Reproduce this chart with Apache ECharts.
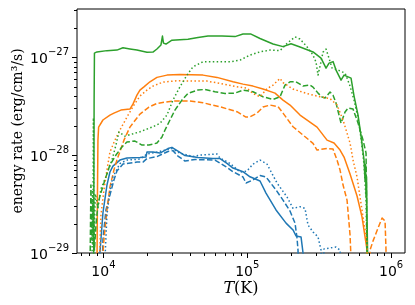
<!DOCTYPE html>
<html><head><meta charset="utf-8">
<script src="https://cdn.jsdelivr.net/npm/echarts@6/dist/echarts.min.js"></script>
<style>html,body{margin:0;padding:0;background:#fff}#c{width:415px;height:305px}</style>
</head><body><div id="c"></div>
<script>
// ---- axes ----
const xRange = [6550, 1.25e6];
const yRange = [0.99999e-29, 3.1e-27];
const xMinorTicks = [7000, 8000, 9000, 2e4, 3e4, 4e4, 5e4, 6e4, 7e4, 8e4, 9e4, 2e5, 3e5, 4e5, 5e5, 6e5, 7e5, 8e5, 9e5];
const xMajorTicks = [1e4, 1e5, 1e6];
const yMinorTicks = [2e-29, 3e-29, 4e-29, 5e-29, 6e-29, 7e-29, 8e-29, 9e-29, 2e-28, 3e-28, 4e-28, 5e-28, 6e-28, 7e-28, 8e-28, 9e-28, 2e-27, 3e-27];
const yMajorTicks = [1e-29, 1e-28, 1e-27];
const yTitle = 'energy rate (erg/cm³/s)';

// ---- series: [T (K), energy rate] ; 5e-30 = below the axis ----
const blueSolid = [[9380,5e-30],[9450,1.0e-29],[9920,2.56e-29],[10580,4.94e-29],[11100,6.71e-29],[11640,7.72e-29],[13020,8.89e-29],[14570,9.32e-29],[17940,9.43e-29],[19760,9.54e-29],[20070,1.073e-28],[22100,1.073e-28],[24720,1.048e-28],[28100,1.165e-28],[29950,1.198e-28],[32970,1.099e-28],[36900,9.88e-29],[45440,9.43e-29],[57770,9.25e-29],[64630,9.21e-29],[72290,8.23e-29],[79600,7.37e-29],[93420,6.76e-29],[104500,6.0e-29],[122700,5.43e-29],[135000,4.09e-29],[158500,2.75e-29],[186100,2.02e-29],[208100,1.72e-29],[218400,1.49e-29],[236600,1.46e-29],[240400,1.21e-29],[244300,1.0e-29],[248000,5e-30]];
const blueDashed = [[9760,5e-30],[9920,1.36e-29],[10410,2.75e-29],[11100,3.91e-29],[11830,5.56e-29],[12410,6.87e-29],[13670,8.09e-29],[17100,8.48e-29],[18830,8.48e-29],[20070,9.21e-29],[23560,9.65e-29],[28100,1.086e-28],[30430,1.11e-28],[32970,9.77e-29],[36900,8.69e-29],[43310,9.0e-29],[59660,8.89e-29],[70010,7.72e-29],[79600,6.76e-29],[93420,5.97e-29],[98020,5.18e-29],[109600,5.56e-29],[122700,6.18e-29],[135000,5.97e-29],[158500,4.4e-29],[177300,3.47e-29],[198300,2.68e-29],[214900,2.02e-29],[221900,1.42e-29],[225400,1.07e-29],[229100,5e-30]];
const blueDotted = [[10080,5e-30],[10580,2.44e-29],[11100,4.4e-29],[11640,5.97e-29],[13020,8.19e-29],[14570,8.89e-29],[17940,9.1e-29],[20070,1.024e-28],[23560,1.073e-28],[29950,1.165e-28],[34040,1.048e-28],[41940,9.65e-29],[46920,1.0e-28],[61600,1.024e-28],[64630,9.32e-29],[75860,8.23e-29],[89040,6.71e-29],[99610,6.87e-29],[109600,8.09e-29],[122700,8.89e-29],[137200,8.09e-29],[161100,5.18e-29],[189100,3.73e-29],[208100,2.86e-29],[232800,2.97e-29],[252200,2.85e-29],[264600,1.93e-29],[286700,1.64e-29],[310600,1.46e-29],[325800,1.07e-29],[333800,5e-30],[341900,1.1e-29],[376400,1.125e-29],[414400,1.15e-29],[441800,1.07e-29],[456200,5e-30]];
const orangeSolid = [[9010,5e-30],[9080,3.47e-29],[9160,1.42e-28],[9260,1.93e-28],[9920,2.28e-28],[11100,2.56e-28],[11830,2.68e-28],[13230,2.88e-28],[15290,2.95e-28],[16040,3.31e-28],[17100,4.09e-28],[17940,4.61e-28],[19130,4.97e-28],[21060,5.6e-28],[23560,6.21e-28],[27660,6.55e-28],[34040,6.66e-28],[49230,6.55e-28],[61600,6.21e-28],[79600,5.6e-28],[93420,5.3e-28],[109600,5.06e-28],[128700,4.72e-28],[156000,4.29e-28],[177300,3.64e-28],[198300,3.24e-28],[232800,2.56e-28],[305700,1.93e-28],[358800,1.42e-28],[401300,1.326e-28],[441800,1.125e-28],[471000,9.54e-29],[518500,6.4e-29],[580100,3.82e-29],[628400,2.33e-29],[680800,1.07e-29],[691800,5e-30]];
const orangeDashed = [[9610,5e-30],[10080,1.36e-29],[10580,2.75e-29],[11100,4.72e-29],[11830,7.03e-29],[12410,8.89e-29],[13890,1.42e-28],[15290,1.93e-28],[17940,2.62e-28],[20730,3.09e-28],[23560,3.37e-28],[30430,3.56e-28],[39970,3.56e-28],[49230,3.42e-28],[64630,3.11e-28],[84850,2.77e-28],[98020,2.44e-28],[104500,2.46e-28],[116900,2.68e-28],[128700,3.09e-28],[144000,3.24e-28],[163700,3.125e-28],[177300,2.68e-28],[208100,1.945e-28],[244300,1.6e-28],[286700,1.317e-28],[305700,1.125e-28],[358800,1.17e-28],[395000,1.15e-28],[421000,8.89e-29],[441800,7.03e-29],[463600,4.94e-29],[494200,3.47e-29],[518500,1.53e-29],[535400,5e-30],[703100,5e-30],[714400,1.07e-29],[749600,1.33e-29],[812200,1.8e-29],[865900,2.28e-29],[908500,2.12e-29],[938000,5e-30]];
const orangeDotted = [[9300,5e-30],[9610,2.44e-29],[10080,4.4e-29],[10580,7.03e-29],[11100,1.073e-28],[12020,1.42e-28],[13020,1.80e-28],[14570,2.44e-28],[16300,3.24e-28],[17940,4.0e-28],[20070,4.61e-28],[22100,5.06e-28],[25940,5.56e-28],[32440,5.73e-28],[41940,5.69e-28],[52480,5.69e-28],[64630,5.39e-28],[84850,4.97e-28],[99610,4.83e-28],[109600,4.24e-28],[122700,3.94e-28],[137200,4.77e-28],[151100,5.18e-28],[169000,6.06e-28],[177300,5.49e-28],[208100,4.72e-28],[260400,4.24e-28],[320700,3.94e-28],[376400,3.77e-28],[421000,3.24e-28],[463600,2.28e-28],[518500,1.326e-28],[544100,8.89e-29],[580100,5.97e-29],[608600,3.73e-29],[638600,2.33e-29],[680800,1.295e-29],[691800,5e-30]];
const greenSolid = [[8550,5e-30],[8615,3.64e-28],[8660,1.10e-27],[9010,1.13e-27],[10580,1.165e-27],[12410,1.18e-27],[13670,1.245e-27],[15290,1.21e-27],[17100,1.18e-27],[20070,1.12e-27],[22100,1.125e-27],[23560,1.21e-27],[25120,1.33e-27],[25730,1.64e-27],[26150,1.39e-27],[27220,1.36e-27],[29950,1.49e-27],[38710,1.52e-27],[45440,1.59e-27],[53330,1.64e-27],[66730,1.64e-27],[82190,1.62e-27],[93420,1.72e-27],[106200,1.72e-27],[122700,1.55e-27],[151100,1.36e-27],[177300,1.28e-27],[201500,1.37e-27],[232800,1.27e-27],[286700,1.13e-27],[325800,9.77e-28],[353100,7.72e-28],[370500,8.69e-28],[395000,9.0e-28],[414400,7.37e-28],[449000,5.82e-28],[471000,6.55e-28],[526900,6.11e-28],[552900,4.0e-28],[589400,2.56e-28],[618400,1.56e-28],[648900,8.89e-29],[659400,5.5e-29],[665000,8.0e-29],[670000,3.8e-29],[675000,6.0e-29],[680800,2.3e-29],[691800,5e-30]];
const greenDashed = [[8050,5e-30],[8185,4.94e-29],[8318,1.36e-29],[8450,3.47e-29],[8660,1.07e-29],[8870,1.93e-29],[9160,3.09e-29],[9450,3.82e-29],[10240,5.56e-29],[11100,7.91e-29],[12220,1.0e-28],[13450,1.21e-28],[14570,1.36e-28],[16560,1.39e-28],[18530,1.265e-28],[20730,1.265e-28],[23560,1.326e-28],[25530,1.53e-28],[26790,1.80e-28],[29010,2.28e-28],[31420,2.88e-28],[35150,3.64e-28],[38710,4.26e-28],[45440,4.61e-28],[50830,4.68e-28],[59660,4.43e-28],[70010,4.26e-28],[82190,4.29e-28],[93420,4.61e-28],[109600,4.43e-28],[128700,3.94e-28],[151100,3.70e-28],[169000,3.94e-28],[183100,5.18e-28],[198300,5.6e-28],[218400,5.6e-28],[244300,5.06e-28],[273200,5.18e-28],[286700,4.94e-28],[310600,4.29e-28],[331100,3.91e-28],[347500,3.82e-28],[376400,4.40e-28],[395000,4.09e-28],[414400,3.39e-28],[449000,2.12e-28],[478600,2.75e-28],[502200,3.02e-28],[544100,2.95e-28],[589400,2.12e-28],[638600,1.42e-28],[670000,1.048e-28],[675400,3.47e-29],[680800,5e-30]];
const greenDotted = [[8320,5e-30],[8385,4.4e-29],[8450,1.2e-29],[8520,2.4e-28],[8590,1.5e-29],[8800,4.0e-29],[9160,2.9e-29],[9610,4.5e-29],[10410,6.0e-29],[11460,8.89e-29],[12220,1.265e-28],[12820,1.72e-28],[14110,1.56e-28],[17940,1.73e-28],[22100,1.945e-28],[24720,2.11e-28],[27660,2.56e-28],[30430,3.64e-28],[34040,4.97e-28],[38100,6.55e-28],[41940,7.96e-28],[49230,8.95e-28],[61600,8.95e-28],[75860,8.95e-28],[89040,9.32e-28],[104500,1.048e-27],[122700,1.132e-27],[144000,1.18e-27],[169000,1.165e-27],[189100,1.38e-27],[214900,1.61e-27],[232800,1.53e-27],[260400,1.274e-27],[286700,1.048e-27],[300800,8.89e-28],[310600,6.55e-28],[320700,8.09e-28],[336500,1.125e-27],[353100,1.207e-27],[364600,1.048e-27],[388700,7.72e-28],[427900,7.37e-28],[478600,6.87e-28],[494200,6.11e-28],[518500,5.06e-28],[552900,3.64e-28],[589400,2.39e-28],[618400,1.49e-28],[648900,7.91e-29],[670000,3.47e-29],[686000,5e-30]];

const BLUE = '#1f77b4', ORANGE = '#ff7f0e', GREEN = '#2ca02c';
const DASH = [5.5, 2.4], DOT = [1.5, 2.4];
const lines = [
  [blueSolid, BLUE, 'solid'], [orangeSolid, ORANGE, 'solid'], [greenSolid, GREEN, 'solid'],
  [blueDashed, BLUE, DASH], [orangeDashed, ORANGE, DASH], [greenDashed, GREEN, DASH],
  [blueDotted, BLUE, DOT], [orangeDotted, ORANGE, DOT], [greenDotted, GREEN, DOT]
];

const MINUS = '\u2212';
function powLabel(v) {
  v = +v;
  if (!(v > 0) || !isFinite(v)) return '';
  const l = Math.log10(v), e = Math.round(l);
  if (!(Math.abs(l - e) < 1e-6)) return '';
  return '{b|10}{s|' + (e < 0 ? MINUS + (-e) : e) + '}';
}
const richLab = {
  b: { fontSize: 14, fontFamily: 'DejaVu Sans', color: '#000', padding: [5, 0, 0, 0], verticalAlign: 'bottom' },
  s: { fontSize: 10, fontFamily: 'DejaVu Sans', color: '#000', verticalAlign: 'top' }
};

function tickSeries(values, dim, len) {
  return {
    type: 'custom', silent: true, clip: false, z: 20, animation: false,
    data: values.map(v => dim === 'x' ? [v, yRange[0]] : [xRange[0], v]),
    renderItem: function (params, api) {
      const p = api.coord([api.value(0), api.value(1)]);
      let shape;
      if (dim === 'x') { const x = Math.round(p[0]) + 0.5; shape = { x1: x, y1: p[1], x2: x, y2: p[1] + len }; }
      else { const y = Math.round(p[1]) + 0.5; shape = { x1: p[0], y1: y, x2: p[0] - len, y2: y }; }
      return { type: 'line', shape: shape, style: { stroke: '#000', lineWidth: 1 } };
    }
  };
}

const series = lines.map(([d, c, t]) => ({
  type: 'line', data: d, showSymbol: false, symbol: 'none', clip: true, animation: false,
  lineStyle: { color: c, width: 1.5, type: t, cap: 'butt', join: 'round' }
}));
series.push(tickSeries(xMajorTicks, 'x', 5), tickSeries(xMinorTicks, 'x', 3),
            tickSeries(yMajorTicks, 'y', 5), tickSeries(yMinorTicks, 'y', 3));

const chart = echarts.init(document.getElementById('c'), null, { renderer: 'canvas' });
chart.setOption({
  animation: false,
  backgroundColor: '#fff',
  grid: { left: 77, right: 10, top: 9, bottom: 52, show: true, borderColor: '#000', borderWidth: 1, containLabel: false, outerBoundsMode: 'none' },
  xAxis: {
    type: 'log', logBase: 10, min: xRange[0], max: xRange[1],
    axisLine: { show: false }, axisTick: { show: false }, splitLine: { show: false }, minorTick: { show: false },
    axisLabel: { formatter: powLabel, rich: richLab, margin: 7 },
    name: '{i|T}{r|(K)}', nameLocation: 'middle', nameGap: 28, nameMoveOverlap: false,
    nameTextStyle: { rich: { i: { fontFamily: 'DejaVu Serif', fontStyle: 'italic', fontSize: 16, color: '#000' }, r: { fontFamily: 'DejaVu Serif', fontSize: 16, color: '#000' } } }
  },
  yAxis: {
    type: 'log', logBase: 10, min: yRange[0], max: yRange[1],
    axisLine: { show: false }, axisTick: { show: false }, splitLine: { show: false }, minorTick: { show: false },
    axisLabel: { formatter: powLabel, rich: richLab, margin: 8 },
    name: yTitle, nameLocation: 'middle', nameGap: 52, nameRotate: 90, nameMoveOverlap: false,
    nameTextStyle: { fontFamily: 'DejaVu Serif', fontSize: 14, color: '#000' }
  },
  series: series
});
</script></body></html>
